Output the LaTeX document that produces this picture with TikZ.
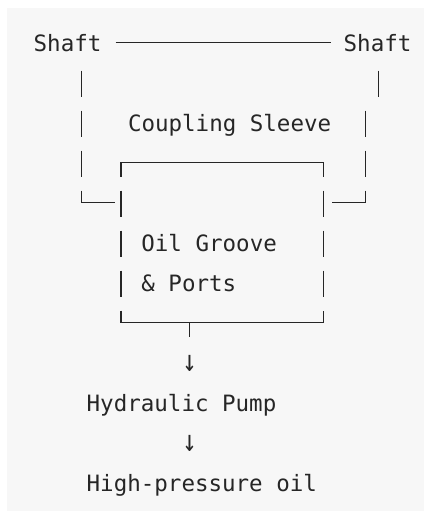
\documentclass[tikz,border=0pt]{standalone}
\usepackage{fontspec}
\setmonofont{DejaVu Sans Mono}
\begin{document}
\begin{tikzpicture}[x=1pt,y=-1pt,
  txt/.style={inner sep=0pt, anchor=base west, font=\ttfamily\fontsize{22.5}{27}\selectfont, text=black!85},
  arr/.style={inner sep=0pt, anchor=base, font=\ttfamily\fontsize{24}{28}\selectfont, text=black!85},
  ln/.style={draw=black!85, line width=1.5pt}]
\fill[white] (0,0) rectangle (424,511);
\fill[black!3] (7,8) rectangle (424,511);
\useasboundingbox (0,0) rectangle (424,511);

% texts
\node[txt] (shaftL) at (33.5,51.7) {Shaft};
\node[txt] (shaftR) at (343.5,51.7) {Shaft};
\node[txt] (sleeve) at (127.8,131.7) {Coupling Sleeve};
\node[txt] (groove) at (141.2,251.7) {Oil Groove};
\node[txt] (ports) at (141.2,291.7) {\& Ports};
\node[txt] (pump) at (86.5,411.7) {Hydraulic Pump};
\node[txt] (oil) at (86.5,491.7) {High-pressure oil};
\node[arr] (a1) at (189.5,371.5) {\scalebox{1}[1.25]{↓}};
\node[arr] (a2) at (189.5,451.5) {\scalebox{1}[1.25]{↓}};

% shaft line
\coordinate (s1) at (115.7,42.7);
\coordinate (s2) at (331,42.7);
\draw[ln] (s1) -- (s2);

% left outer bars
\foreach \k in {1,2,3} {
  \draw[ln] (81.7,30.7+40*\k) -- (81.7,56.7+40*\k);
}
% right outer bars
\draw[ln] (378.3,70.7) -- (378.3,96.7);
\foreach \k in {2,3} {
  \draw[ln] (365.3,30.7+40*\k) -- (365.3,56.7+40*\k);
}
% outer corners (row 4)
\coordinate (lc) at (81.7,202.7);
\coordinate (rc) at (365.3,202.7);
\draw[ln] (81.7,190.7) -- (lc) -- (115,202.7);
\draw[ln] (365.3,190.7) -- (rc) -- (331.7,202.7);

% inner box top
\coordinate (tl) at (121.2,162.7);
\coordinate (tr) at (323.7,162.7);
\draw[ln] (121.2,176.7) -- (tl) -- (tr) -- (323.7,176.7);
% inner box sides
\foreach \k in {4,5,6} {
  \draw[ln] (121.2,30.7+40*\k) -- (121.2,56.7+40*\k);
  \draw[ln] (323.7,30.7+40*\k) -- (323.7,56.7+40*\k);
}
% inner box bottom
\coordinate (bl) at (121.2,322.7);
\coordinate (br) at (323.7,322.7);
\coordinate (tee) at (189.5,322.7);
\coordinate (teeEnd) at (189.5,336.7);
\draw[ln] (121.2,310.7) -- (bl) -- (br) -- (323.7,310.7);
\draw[ln] (tee) -- (teeEnd);
\end{tikzpicture}
\end{document}
